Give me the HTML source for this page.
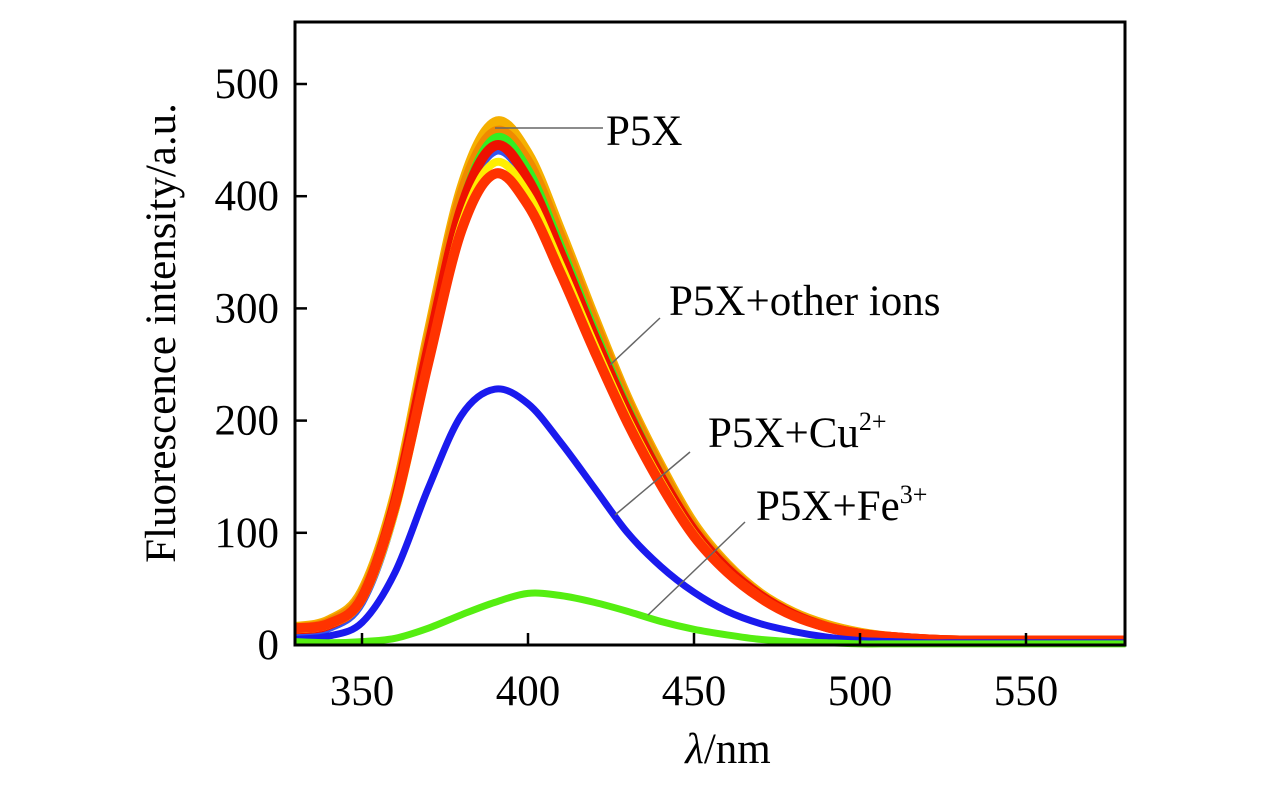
<!DOCTYPE html>
<html><head><meta charset="utf-8"><style>
body{margin:0;background:#fff}
text{font-family:"Liberation Serif",serif;fill:#000}
</style></head><body>
<svg id="chart" width="1276" height="787" xmlns="http://www.w3.org/2000/svg">
<g id="series"></g>
<rect x="295" y="22" width="830" height="623" fill="none" stroke="#000" stroke-width="3"/>
<g id="axes"></g>
<text transform="translate(175,333) rotate(-90)" text-anchor="middle" font-size="43">Fluorescence intensity/a.u.</text>
<text x="728" y="763" text-anchor="middle" font-size="43"><tspan font-style="italic">λ</tspan>/nm</text>
<g stroke="#666" stroke-width="1.5">
<line x1="495" y1="128" x2="603" y2="128"/>
<line x1="610" y1="365" x2="660" y2="318"/>
<line x1="615" y1="515" x2="690" y2="452"/>
<line x1="648" y1="615" x2="745" y2="522"/>
</g>
<text x="606" y="145" font-size="43">P5X</text>
<text x="669" y="315" font-size="43">P5X+other ions</text>
<text x="708" y="447" font-size="43">P5X+Cu<tspan font-size="26" dy="-17">2+</tspan></text>
<text x="756" y="520" font-size="43">P5X+Fe<tspan font-size="26" dy="-17">3+</tspan></text>
</svg>
<script>
const wavelengths=[330,340,350,360,370,380,390,400,410,420,430,440,450,460,470,480,490,500,510,520,530,540,550,560,570,580];
const orangeVals=[16,22,48,135,278,408,466,438,368,292,220,160,108,72,46,29,18,11,7,5,4,4,4,4,4,4];
const darkOrangeVals=[15,21,46,132,274,404,458,432,364,289,218,158,106,71,45,28,17,10,7,5,4,4,4,4,4,4];
const greenIonVals=[12,18,42,125,262,392,452,424,355,281,212,152,103,68,44,27,16,10,6,4,3,3,3,3,3,3];
const blueIonVals=[10,15,38,120,255,385,440,412,345,272,205,148,100,66,43,26,16,10,6,4,3,3,3,3,3,3];
const redVals=[14,18,42,128,265,390,445,415,348,275,208,150,102,68,44,27,16,10,7,5,4,4,4,4,4,4];
const yellowVals=[14,18,40,120,250,375,430,402,338,268,202,146,99,66,43,26,16,10,7,5,3,3,3,3,3,3];
const orangeRedVals=[15,19,42,125,252,370,420,392,330,262,198,143,97,65,42,26,16,10,7,5,4,4,4,4,4,4];
const cuVals=[5,8,20,65,140,205,228,215,180,140,100,70,47,30,19,12,7,4,3,2,2,2,2,2,2,2];
const feVals=[3,2,3,6,15,27,38,46,44,38,30,21,14,9,5,3,2,1,1,1,1,1,1,1,1,1];
const xTicks=[350,400,450,500,550];
const yTicks=[0,100,200,300,400,500];
const X=v=>295.6+(v-330)*3.32;
const Y=v=>645-v*1.122;
const NS="http://www.w3.org/2000/svg";
const g=document.getElementById('series');
function path(vals,color,w,name){
  const p=wavelengths.map((x,i)=>[X(x),Y(vals[i])]);
  let d=`M${p[0][0]},${p[0][1]}`;
  for(let i=0;i<p.length-1;i++){
    const a=p[i-1]||p[i],b=p[i],c=p[i+1],e=p[i+2]||c;
    d+=` C${b[0]+(c[0]-a[0])/6},${b[1]+(c[1]-a[1])/6} ${c[0]-(e[0]-b[0])/6},${c[1]-(e[1]-b[1])/6} ${c[0]},${c[1]}`;
  }
  const el=document.createElementNS(NS,'path');
  el.setAttribute('d',d);el.setAttribute('fill','none');el.setAttribute('stroke',color);
  el.setAttribute('stroke-width',w);el.setAttribute('stroke-linejoin','round');
  
  
  g.appendChild(el);
}
path(orangeVals,'#f5b000',10,'series-orange');
path(darkOrangeVals,'#f08a00',9,'series-dark-orange');
path(greenIonVals,'#33ee22',8,'series-green-ion');
path(blueIonVals,'#3355ee',8,'series-blue-ion');
path(redVals,'#ee1100',10,'series-red');
path(yellowVals,'#ffee00',8,'series-yellow');
path(orangeRedVals,'#ff3300',10,'series-orange-red');
path(cuVals,'#1a1aee',7,'series-cu');
path(feVals,'#55ee11',7,'series-fe');
const ax=document.getElementById('axes');
xTicks.forEach(v=>{
  const l=document.createElementNS(NS,'line');
  l.setAttribute('x1',X(v));l.setAttribute('x2',X(v));l.setAttribute('y1',645);l.setAttribute('y2',633);
  l.setAttribute('stroke','#000');l.setAttribute('stroke-width',2.5);
  
  
  ax.appendChild(l);
  const t=document.createElementNS(NS,'text');
  t.setAttribute('x',X(v));t.setAttribute('y',705);t.setAttribute('text-anchor','middle');t.setAttribute('font-size','43');
  t.textContent=v;
  
  
  ax.appendChild(t);
});
yTicks.forEach(v=>{
  const l=document.createElementNS(NS,'line');
  l.setAttribute('x1',295);l.setAttribute('x2',307);l.setAttribute('y1',Y(v));l.setAttribute('y2',Y(v));
  l.setAttribute('stroke','#000');l.setAttribute('stroke-width',2.5);
  
  
  ax.appendChild(l);
  const t=document.createElementNS(NS,'text');
  t.setAttribute('x',279);t.setAttribute('y',Y(v)+14);t.setAttribute('text-anchor','end');t.setAttribute('font-size','43');
  t.textContent=v;
  
  
  ax.appendChild(t);
});
</script>
</body></html>
